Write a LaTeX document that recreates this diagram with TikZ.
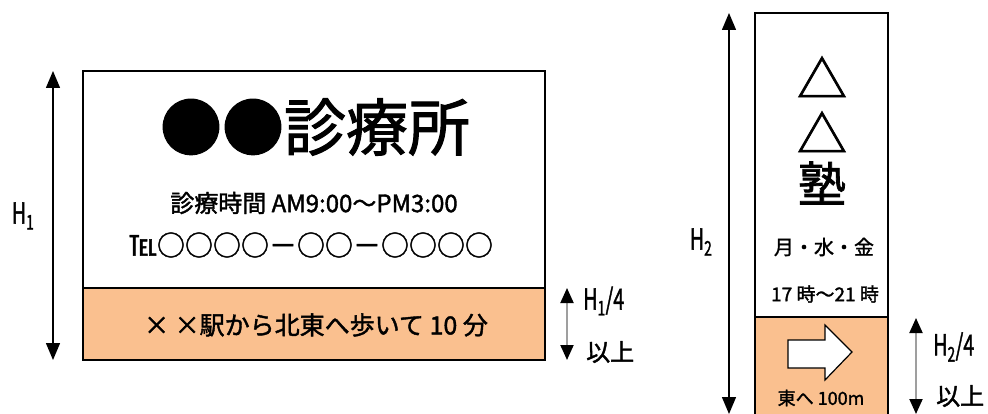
\documentclass[tikz,border=0pt]{standalone}
\usepackage{fontspec}
\setmainfont{Noto Sans CJK JP}[FakeBold=1.6]
\usetikzlibrary{arrows.meta}
\definecolor{bandor}{RGB}{250,192,143}
\tikzset{
  dimarrow/.style={line width=1.4pt,{Triangle[width=14pt,length=17pt]}-{Triangle[width=14pt,length=17pt]}},
  graydim/.style={line width=2pt,draw=gray!75,{Triangle[width=13pt,length=15pt,color=black]}-{Triangle[width=13pt,length=15pt,color=black]}},
  signbox/.style={draw=black,line width=1.6pt},
  txt/.style={inner sep=0pt,anchor=center},
  lab/.style={inner sep=0pt,font=\fontsize{29}{29}\selectfont},
  kan/.style={inner sep=0pt,font=\fontsize{24}{24}\selectfont},
}
\newcommand{\narrowtxt}[1]{\scalebox{0.68}[1]{#1}}
\begin{document}
\begin{tikzpicture}[x=1pt,y=-1pt]
\useasboundingbox (0,0) rectangle (988,414);
\clip (0,0) rectangle (988,414);
% left sign
\fill[bandor] (83,288) rectangle (545,360);
\draw[signbox] (83,71) rectangle (545,360);
\draw[line width=1.2pt] (83,288) -- (545,288);
\node[txt,font=\fontsize{62}{62}\selectfont] (title) at (315,127) {●●診療所};
\node[txt,font=\fontsize{24}{24}\selectfont] (hours) at (314,203) {診療時間 AM9:00〜PM3:00};
\node[txt,font=\fontsize{28}{28}\selectfont] (tel) at (311,245) {℡○○○○－○○－○○○○};
\node[txt,font=\fontsize{25}{25}\selectfont] (dirL) at (316,325) {× ×駅から北東へ歩いて 10 分};
% left dimension
\coordinate (a1t) at (53,71);
\coordinate (a1b) at (53,360);
\draw[dimarrow] (a1t) -- (a1b);
\node[lab] (h1) at (23,216) {\narrowtxt{H\textsubscript{1}}};
\coordinate (a2t) at (567,288);
\coordinate (a2b) at (567,360);
\draw[graydim] (a2t) -- (a2b);
\node[lab,anchor=west] (h14) at (583,301) {\narrowtxt{H\textsubscript{1}/4}};
\node[kan,anchor=west] (ijo1) at (586,352) {以上};
% right sign
\fill[bandor] (755,317) rectangle (888,420);
\draw[signbox] (755,13) rectangle (888,420);
\draw[line width=1.2pt] (755,317) -- (888,317);
\node[txt,font=\fontsize{50}{50}\selectfont] (tri1) at (822,77) {△};
\node[txt,font=\fontsize{50}{50}\selectfont] (tri2) at (822,132) {△};
\node[txt,font=\fontsize{48}{48}\selectfont] (juku) at (822,183) {塾};
\node[txt,font=\fontsize{20}{20}\selectfont] (days) at (824,247) {月・水・金};
\node[txt,font=\fontsize{19}{19}\selectfont] (time) at (825,294) {17 時〜21 時};
\draw[fill=white,line width=1.2pt] (788,340) -- (825,340) -- (825,325) -- (852,352) -- (825,380) -- (825,368) -- (788,368) -- cycle;
\node[txt,font=\fontsize{18}{18}\selectfont] (dirR) at (821,398) {東へ 100m};
% right dimensions
\coordinate (b1t) at (729,13);
\coordinate (b1b) at (729,414);
\draw[dimarrow] (b1t) -- (b1b);
\node[lab] (h2) at (701,242) {\narrowtxt{H\textsubscript{2}}};
\coordinate (b2t) at (916,318);
\coordinate (b2b) at (916,414);
\draw[graydim] (b2t) -- (b2b);
\node[lab,anchor=west] (h24) at (933,347) {\narrowtxt{H\textsubscript{2}/4}};
\node[kan,anchor=west] (ijo2) at (936,396) {以上};
\end{tikzpicture}
\end{document}
